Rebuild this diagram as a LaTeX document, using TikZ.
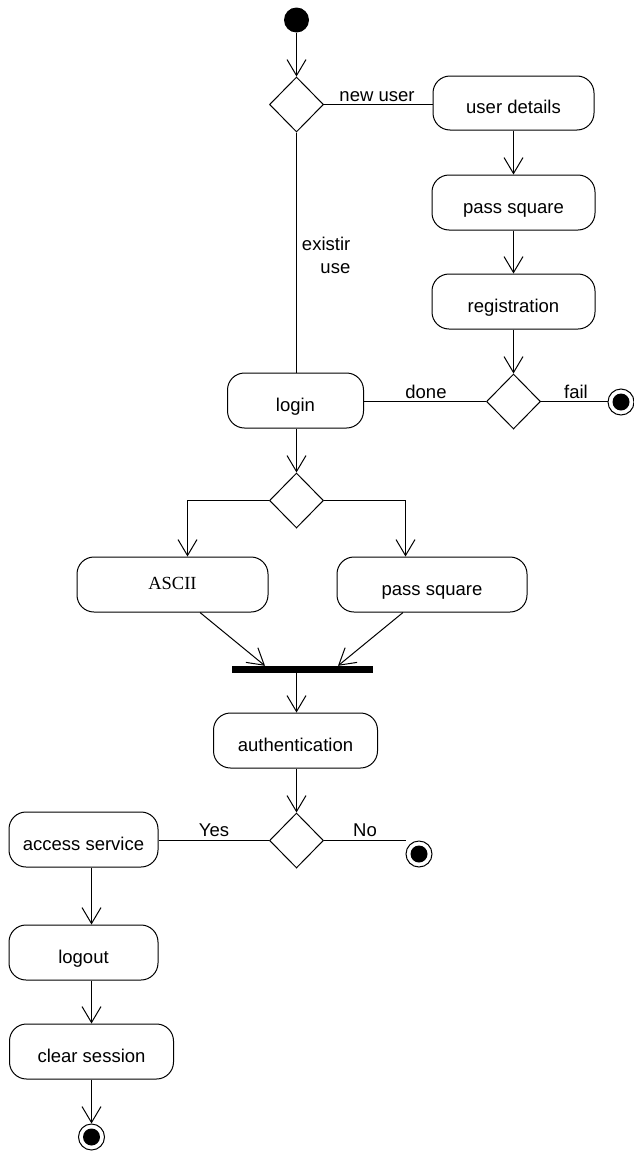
\documentclass[tikz,border=0pt]{standalone}
\usepackage{fontspec}
\setmainfont{Liberation Sans}
\newfontfamily\serifbox{Liberation Serif}
\usetikzlibrary{shapes.geometric,arrows.meta,calc}

\tikzset{
  every node/.style={font=\fontsize{18.5}{22}\selectfont},
  act/.style={draw, line width=1pt, rounded corners=17pt, minimum height=55pt, inner sep=0pt,
    text height=21.5pt, text depth=0pt},
  dec/.style={draw, diamond, line width=1pt, minimum width=54pt, minimum height=55pt, inner sep=0pt},
  initnode/.style={circle, fill=black, minimum size=25pt, inner sep=0pt},
  finalnode/.style={circle, draw, line width=1pt, minimum size=26pt, inner sep=0pt,
    path picture={\fill (path picture bounding box.center) circle (8.5pt);}},
  forkbar/.style={fill=black, minimum width=141pt, minimum height=7pt, inner sep=0pt},
  flow/.style={line width=1pt},
  arr/.style={flow, -{Straight Barb[length=16pt, width=19pt]}},
  lbl/.style={inner sep=0pt}
}

\begin{document}
\begin{tikzpicture}[x=1pt, y=-1pt]
\useasboundingbox (0,0) rectangle (634,1151);
\fill[white] (0,0) rectangle (634,1151);

% registration branch
\node[initnode] (start) at (296.5,20) {};
\node[dec] (d1) at (296.5,104.5) {};
\node[act, minimum width=161pt, minimum height=54pt] (ud) at (513.5,103) {user details};
\node[act, minimum width=163pt] (ps1) at (513.5,202.5) {pass square};
\node[act, minimum width=163pt] (reg) at (513.5,301.5) {registration};
\node[dec] (d2) at (513.5,401.5) {};
\node[finalnode] (fin1) at (621,402) {};
\node[act, minimum width=136pt] (login) at (295.5,400.5) {login};

% login alternatives
\node[dec] (d3) at (296.5,500.5) {};
\node[act, minimum width=191pt, text height=9pt] (ascii) at (172.5,584.5) {\serifbox ASCII};
\node[act, minimum width=190pt] (ps2) at (432,584.5) {pass square};
\node[forkbar] (bar) at (302.5,669.5) {};
\node[act, minimum width=164pt] (auth) at (295.5,740.5) {authentication};
\node[dec] (d4) at (296.5,840.5) {};
\node[finalnode] (fin2) at (419,854) {};

% service session
\node[act, minimum width=149pt] (acc) at (83.5,839.5) {access service};
\node[act, minimum width=149pt] (logout) at (83.5,952.5) {logout};
\node[act, minimum width=164pt] (clear) at (91.5,1051.5) {clear session};
\node[finalnode] (fin3) at (91.5,1137) {};

% connectors
\draw[arr] (start) -- (d1.north);
\draw[flow] (d1.east) -- (d1.east -| ud.west);
\draw[arr] (ud.south) -- (ps1.north);
\draw[arr] (ps1.south) -- (reg.north);
\draw[arr] (reg.south) -- (d2.north);
\draw[flow] (d1.south) -- (d1.south |- login.north);
\draw[flow] (d2.west -| login.east) -- (d2.west);
\draw[flow] (d2.east) -- (d2.east -| fin1.west);
\draw[arr] (login.south -| d3) -- (d3.north);
\draw[arr] (d3.west) -| ([xshift=15pt]ascii.north);
\draw[arr] (d3.east) -| ([xshift=-26.5pt]ps2.north);
\draw[arr] ([xshift=27.5pt]ascii.south) -- ([xshift=-37.5pt]bar.north);
\draw[arr] ([xshift=-29pt]ps2.south) -- ([xshift=35.5pt]bar.north);
\draw[arr] (bar.south -| d4) -- (auth.north -| d4);
\draw[arr] (auth.south -| d4) -- (d4.north);
\draw[flow] (d4.west) -- (d4.west -| acc.east);
\draw[flow] (d4.east) -- (d4.east -| fin2.west);
\draw[arr] (acc.south -| clear) -- (logout.north -| clear);
\draw[arr] (logout.south -| clear) -- (clear.north);
\draw[arr] (clear.south) -- (fin3.north);

% guard labels
\node[lbl, anchor=base] (lnew) at (377,101.5) {new user};
\node[lbl, anchor=base east] (lexist1) at (350.5,250) {existir};
\node[lbl, anchor=base east] (lexist2) at (350.5,273.5) {use};
\node[lbl, anchor=base] (ldone) at (426,398) {done};
\node[lbl, anchor=base] (lfail) at (576,398) {fail};
\node[lbl, anchor=base] (lyes) at (214,836.5) {Yes};
\node[lbl, anchor=base] (lno) at (365,836.5) {No};
\end{tikzpicture}
\end{document}
